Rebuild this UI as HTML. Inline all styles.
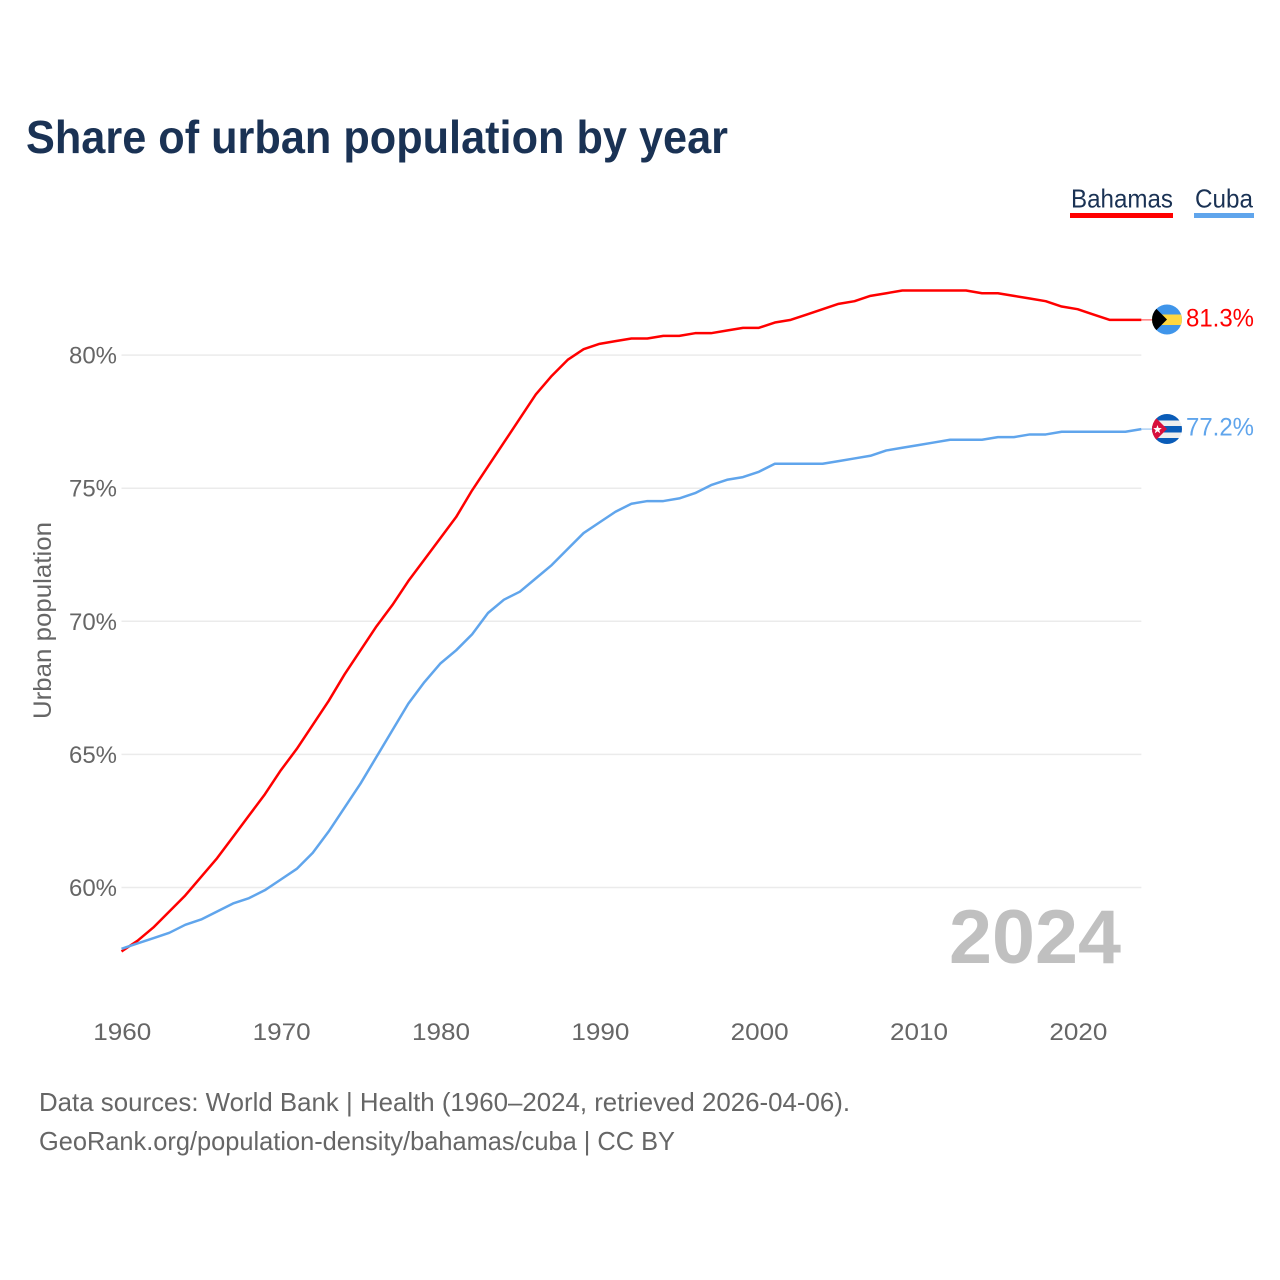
<!DOCTYPE html>
<html lang="en">
<head>
<meta charset="utf-8">
<title>Share of urban population by year</title>
<style>
html,body{margin:0;padding:0;background:#fff}
svg{display:block}
text{font-family:"Liberation Sans",sans-serif}
</style>
</head>
<body>
<svg id="chart" width="1280" height="1280" viewBox="0 0 1280 1280" xmlns="http://www.w3.org/2000/svg">
  <defs>
    <clipPath id="clip-bs"><circle cx="1167" cy="319.5" r="15"/></clipPath>
    <clipPath id="clip-cu"><circle cx="1167" cy="429" r="15"/></clipPath>
  </defs>
  <text x="26" y="153" font-size="46" font-weight="700" fill="#1a3254" textLength="702" lengthAdjust="spacingAndGlyphs">Share of urban population by year</text>

  <g>
    <g>
      <text x="1071" y="207.5" font-size="26" fill="#1a3254" textLength="102" lengthAdjust="spacingAndGlyphs">Bahamas</text>
      <rect x="1070" y="213" width="103" height="5" fill="#ff0000"/>
    </g>
    <g>
      <text x="1195" y="207.5" font-size="26" fill="#1a3254" textLength="58" lengthAdjust="spacingAndGlyphs">Cuba</text>
      <rect x="1194" y="213" width="60" height="5" fill="#60a5ec"/>
    </g>
  </g>

  <g id="grid"></g>
  <g id="yticks"></g>
  <g id="xticks"></g>
  <text transform="translate(51,719) rotate(-90)" x="0" y="0" font-size="25" fill="#666666" textLength="197" lengthAdjust="spacingAndGlyphs">Urban population</text>

  <text x="949" y="963" font-size="76" font-weight="700" fill="#c0c0c0" textLength="172" lengthAdjust="spacingAndGlyphs">2024</text>

  <g id="series"></g>

  <g clip-path="url(#clip-bs)">
    <rect x="1152" y="304.5" width="30" height="30" fill="#3f95ea"/>
    <rect x="1152" y="314.5" width="30" height="10.5" fill="#ffd740"/>
    <polygon points="1152,304.5 1167,319.5 1152,334.5" fill="#000000"/>
  </g>
  <g clip-path="url(#clip-cu)">
    <rect x="1152" y="414" width="30" height="30" fill="#eeeeee"/>
    <rect x="1152" y="414" width="30" height="6.5" fill="#0a5cb8"/>
    <rect x="1152" y="426" width="30" height="6.5" fill="#0a5cb8"/>
    <rect x="1152" y="438" width="30" height="6" fill="#0a5cb8"/>
    <polygon points="1152,414 1167,429 1152,444" fill="#d80f3c"/>
    <polygon points="1157.5,425 1158.6,428 1161.8,428.1 1159.3,430.1 1160.2,433.2 1157.5,431.4 1154.8,433.2 1155.7,430.1 1153.2,428.1 1156.4,428" fill="#ffffff"/>
  </g>

  <text x="1186" y="326.5" font-size="25" fill="#ff0000" textLength="68" lengthAdjust="spacingAndGlyphs">81.3%</text>
  <text x="1186" y="435.5" font-size="25" fill="#60a5ec" textLength="68" lengthAdjust="spacingAndGlyphs">77.2%</text>

  <g>
    <text x="39" y="1111" font-size="26" fill="#666666" textLength="811" lengthAdjust="spacingAndGlyphs">Data sources: World Bank | Health (1960–2024, retrieved 2026-04-06).</text>
    <text x="39" y="1150" font-size="26" fill="#666666" textLength="636" lengthAdjust="spacingAndGlyphs">GeoRank.org/population-density/bahamas/cuba | CC BY</text>
  </g>
</svg>
<script>
const years = [1960,1961,1962,1963,1964,1965,1966,1967,1968,1969,1970,1971,1972,1973,1974,1975,1976,1977,1978,1979,1980,1981,1982,1983,1984,1985,1986,1987,1988,1989,1990,1991,1992,1993,1994,1995,1996,1997,1998,1999,2000,2001,2002,2003,2004,2005,2006,2007,2008,2009,2010,2011,2012,2013,2014,2015,2016,2017,2018,2019,2020,2021,2022,2023,2024];
const bahamas = [57.6,58.0,58.5,59.1,59.7,60.4,61.1,61.9,62.7,63.5,64.4,65.2,66.1,67.0,68.0,68.9,69.8,70.6,71.5,72.3,73.1,73.9,74.9,75.8,76.7,77.6,78.5,79.2,79.8,80.2,80.4,80.5,80.6,80.6,80.7,80.7,80.8,80.8,80.9,81.0,81.0,81.2,81.3,81.5,81.7,81.9,82.0,82.2,82.3,82.4,82.4,82.4,82.4,82.4,82.3,82.3,82.2,82.1,82.0,81.8,81.7,81.5,81.3,81.3,81.3];
const cuba = [57.7,57.9,58.1,58.3,58.6,58.8,59.1,59.4,59.6,59.9,60.3,60.7,61.3,62.1,63.0,63.9,64.9,65.9,66.9,67.7,68.4,68.9,69.5,70.3,70.8,71.1,71.6,72.1,72.7,73.3,73.7,74.1,74.4,74.5,74.5,74.6,74.8,75.1,75.3,75.4,75.6,75.9,75.9,75.9,75.9,76.0,76.1,76.2,76.4,76.5,76.6,76.7,76.8,76.8,76.8,76.9,76.9,77.0,77.0,77.1,77.1,77.1,77.1,77.1,77.2];
const yTicks = [60,65,70,75,80];
const xTicks = [1960,1970,1980,1990,2000,2010,2020];

const NS = 'http://www.w3.org/2000/svg';
function xScale(year){ return 121.5 + (year - 1960) * 15.935; }
function yScale(v){ return 887.5 - (v - 60) * 26.62; }
function ySeries(v){ return yScale(v) - (v - 60) * 0.03; }

const gridGroup = document.getElementById('grid');
const yGroup = document.getElementById('yticks');
const xGroup = document.getElementById('xticks');
const seriesGroup = document.getElementById('series');

yTicks.forEach(function(t){
  const line = document.createElementNS(NS, 'line');
  
  
  line.setAttribute('x1', xScale(1960));
  line.setAttribute('x2', xScale(2024));
  line.setAttribute('y1', yScale(t));
  line.setAttribute('y2', yScale(t));
  line.setAttribute('stroke', '#ebebeb');
  line.setAttribute('stroke-width', '1.5');
  gridGroup.appendChild(line);

  const label = document.createElementNS(NS, 'text');
  
  
  label.setAttribute('x', 117);
  label.setAttribute('y', yScale(t) + 8.5);
  label.setAttribute('text-anchor', 'end');
  label.setAttribute('font-size', '24.5');
  label.setAttribute('fill', '#666666');
  label.setAttribute('textLength', '48');
  label.setAttribute('lengthAdjust', 'spacingAndGlyphs');
  label.textContent = t + '%';
  yGroup.appendChild(label);
});

xTicks.forEach(function(t){
  const label = document.createElementNS(NS, 'text');
  
  
  label.setAttribute('x', xScale(t) + 0.8);
  label.setAttribute('y', 1040);
  label.setAttribute('text-anchor', 'middle');
  label.setAttribute('font-size', '24.5');
  label.setAttribute('fill', '#666666');
  label.setAttribute('textLength', '58');
  label.setAttribute('lengthAdjust', 'spacingAndGlyphs');
  label.textContent = t;
  xGroup.appendChild(label);
});

function pointsFor(values){
  return values.map(function(v, i){
    return xScale(years[i]).toFixed(2) + ',' + ySeries(v).toFixed(2);
  }).join(' ');
}

const redLine = document.createElementNS(NS, 'polyline');


redLine.setAttribute('points', pointsFor(bahamas));
redLine.setAttribute('fill', 'none');
redLine.setAttribute('stroke', '#ff0000');
redLine.setAttribute('stroke-width', '2.5');
redLine.setAttribute('stroke-linejoin', 'round');
seriesGroup.appendChild(redLine);

const blueLine = document.createElementNS(NS, 'polyline');


blueLine.setAttribute('points', pointsFor(cuba));
blueLine.setAttribute('fill', 'none');
blueLine.setAttribute('stroke', '#60a5ec');
blueLine.setAttribute('stroke-width', '2.5');
blueLine.setAttribute('stroke-linejoin', 'round');
seriesGroup.appendChild(blueLine);

const redLeader = document.createElementNS(NS, 'line');


redLeader.setAttribute('x1', xScale(2024));
redLeader.setAttribute('x2', 1152);
redLeader.setAttribute('y1', ySeries(bahamas[bahamas.length - 1]));
redLeader.setAttribute('y2', ySeries(bahamas[bahamas.length - 1]));
redLeader.setAttribute('stroke', '#ff0000');
redLeader.setAttribute('stroke-opacity', '0.5');
redLeader.setAttribute('stroke-width', '1.5');
seriesGroup.appendChild(redLeader);

const blueLeader = document.createElementNS(NS, 'line');


blueLeader.setAttribute('x1', xScale(2024));
blueLeader.setAttribute('x2', 1152);
blueLeader.setAttribute('y1', ySeries(cuba[cuba.length - 1]));
blueLeader.setAttribute('y2', ySeries(cuba[cuba.length - 1]));
blueLeader.setAttribute('stroke', '#60a5ec');
blueLeader.setAttribute('stroke-opacity', '0.5');
blueLeader.setAttribute('stroke-width', '1.5');
seriesGroup.appendChild(blueLeader);
</script>
</body>
</html>
